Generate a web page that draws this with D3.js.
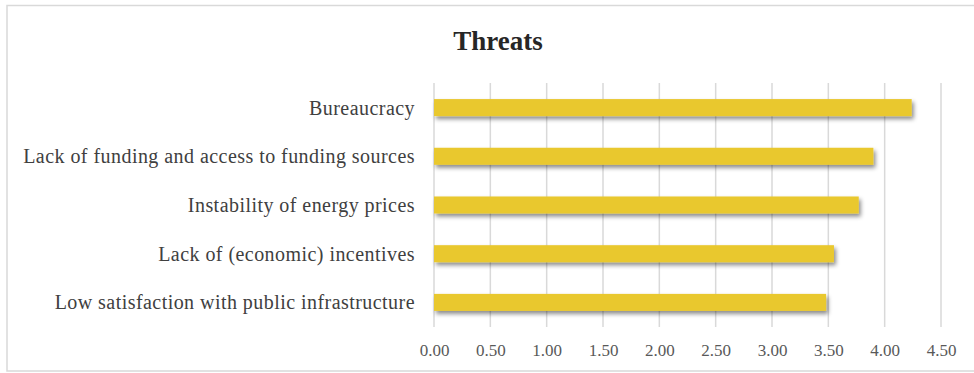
<!DOCTYPE html>
<html>
<head>
<meta charset="utf-8">
<script src="https://cdn.jsdelivr.net/npm/d3@7"></script>
<style>
  body { margin: 0; background: #fff; }
  svg { display: block; font-family: "Liberation Serif", "Times New Roman", serif; }
</style>
</head>
<body>
<svg></svg>
<script>
// data
var categories = [
    "Bureaucracy",
    "Lack of funding and access to funding sources",
    "Instability of energy prices",
    "Lack of (economic) incentives",
    "Low satisfaction with public infrastructure"
]
var values = [4.24, 3.90, 3.77, 3.55, 3.48]
var ticks = [0, 0.5, 1, 1.5, 2, 2.5, 3, 3.5, 4, 4.5]

var dimensions = {
    width: 974,
    height: 373,
    margin: { top: 83, bottom: 46, left: 434, right: 33 }
}

var svg = d3.select("svg")
            .attr("width", dimensions.width)
            .attr("height", dimensions.height)

// drop shadow under the bars
var defs = svg.append("defs")
var shadow = defs.append("filter")
                 .attr("id", "shadow")
                 .attr("x", "-5%").attr("y", "-30%")
                 .attr("width", "115%").attr("height", "190%")
shadow.append("feDropShadow")
      .attr("dx", 2).attr("dy", 3)
      .attr("stdDeviation", 2)
      .attr("flood-color", "#000")
      .attr("flood-opacity", 0.45)

// outer frame
svg.append("rect")
   .attr("x", 7).attr("y", 5.5)
   .attr("width", 980).attr("height", 365.5)
   .attr("fill", "white")
   .attr("stroke", "#d9d9d9")
   .attr("stroke-width", 1.5)

svg.append("text")
   .attr("x", 498).attr("y", 50)
   .attr("text-anchor", "middle")
   .attr("font-weight", "bold")
   .attr("font-size", 27)
   .attr("fill", "#262626")
   .text("Threats")

var xScale = d3.scaleLinear()
               .domain([0, 4.5])
               .range([dimensions.margin.left, dimensions.width - dimensions.margin.right])

var yScale = d3.scaleBand()
               .domain(categories)
               .range([dimensions.margin.top, dimensions.height - dimensions.margin.bottom])
               .paddingInner(0.65)
               .paddingOuter(0.33)

// gridlines
svg.append("g")
   .selectAll("line")
   .data(ticks)
   .enter()
   .append("line")
   .attr("x1", d => xScale(d)).attr("x2", d => xScale(d))
   .attr("y1", dimensions.margin.top)
   .attr("y2", dimensions.height - dimensions.margin.bottom)
   .attr("stroke", "#d9d9d9")
   .attr("stroke-width", 1.5)

// bars
svg.append("g")
   .selectAll("rect")
   .data(values)
   .enter()
   .append("rect")
   .attr("x", xScale(0))
   .attr("y", (d, i) => yScale(categories[i]))
   .attr("width", d => xScale(d) - xScale(0))
   .attr("height", yScale.bandwidth())
   .attr("fill", "#e9c82f")
   .attr("filter", "url(#shadow)")

// category labels
svg.append("g")
   .selectAll("text")
   .data(categories)
   .enter()
   .append("text")
   .attr("x", 415)
   .attr("y", d => yScale(d) + yScale.bandwidth() / 2)
   .attr("dy", "0.35em")
   .attr("text-anchor", "end")
   .attr("font-size", 20)
   .attr("letter-spacing", 0.45)
   .attr("fill", "#404040")
   .text(d => d)

// x tick labels
var xAxis = d3.axisBottom(xScale)
              .tickValues(ticks)
              .tickFormat(d3.format(".2f"))
              .tickSize(0)
              .tickPadding(17)

var xAxisGroup = svg.append("g")
                    .attr("transform", "translate(0," + (dimensions.height - dimensions.margin.bottom) + ")")
                    .call(xAxis)
xAxisGroup.select(".domain").remove()
xAxisGroup.selectAll("text")
          .attr("font-family", "Liberation Serif")
          .attr("font-size", 17)
          .attr("fill", "#595959")
</script>
</body>
</html>
